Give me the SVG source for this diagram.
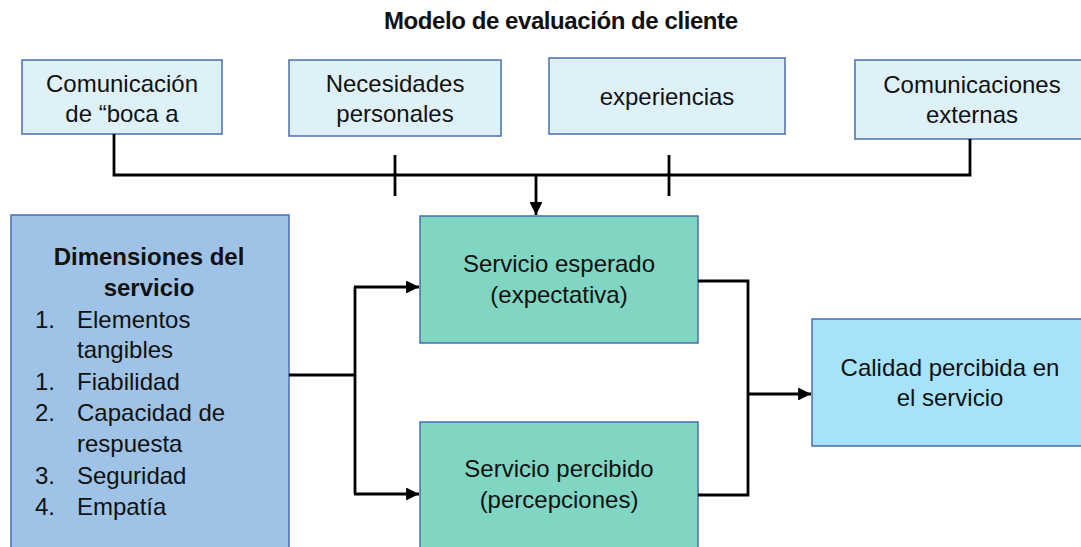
<svg xmlns="http://www.w3.org/2000/svg" width="1081" height="547" viewBox="0 0 1081 547">
<style>
text{font-family:"Liberation Sans",Arial,sans-serif;font-size:24px;fill:#111;}
.c{text-anchor:middle;}
.b{font-weight:bold;}
.box{stroke:#4A6DB0;stroke-width:1.5;}
.top{fill:#DFF1F8;}
.dim{fill:#9EC3E6;}
.grn{fill:#80D6C3;}
.cal{fill:#A6E3FB;}
.ln{fill:none;stroke:#000;stroke-width:2.8;}
</style>
<defs>
<marker id="ah" viewBox="0 0 10 10" refX="10" refY="5" markerWidth="4.8" markerHeight="4.6" orient="auto" markerUnits="strokeWidth">
<path d="M0,0 L10,5 L0,10 z" fill="#000"/>
</marker>
</defs>
<text class="c b" x="561" y="29" font-size="22" textLength="354">Modelo de evaluación de cliente</text>

<g id="n-boca">
<rect class="box top" x="22" y="60" width="200" height="74"/>
<text class="c" x="122" y="92">Comunicación</text>
<text class="c" x="122" y="122">de “boca a</text>
</g>
<g id="n-necesidades">
<rect class="box top" x="289" y="60" width="212" height="76"/>
<text class="c" x="395" y="92">Necesidades</text>
<text class="c" x="395" y="122">personales</text>
</g>
<g id="n-experiencias">
<rect class="box top" x="549" y="58" width="236" height="76"/>
<text class="c" x="667" y="105">experiencias</text>
</g>
<g id="n-externas">
<rect class="box top" x="855" y="60" width="230" height="79"/>
<text class="c" x="972" y="93">Comunicaciones</text>
<text class="c" x="972" y="123">externas</text>
</g>

<g id="n-dimensiones">
<rect class="box dim" x="11" y="215" width="278" height="340"/>
<text class="c b" x="149" y="265">Dimensiones del</text>
<text class="c b" x="149" y="296">servicio</text>
<text x="35" y="328">1.</text><text x="77" y="328">Elementos</text>
<text x="77" y="358">tangibles</text>
<text x="35" y="390">1.</text><text x="77" y="390">Fiabilidad</text>
<text x="35" y="421">2.</text><text x="77" y="421">Capacidad de</text>
<text x="77" y="452">respuesta</text>
<text x="35" y="484">3.</text><text x="77" y="484">Seguridad</text>
<text x="35" y="515">4.</text><text x="77" y="515">Empatía</text>
</g>

<g id="n-esperado">
<rect class="box grn" x="420" y="216" width="278" height="127"/>
<text class="c" x="559" y="272">Servicio esperado</text>
<text class="c" x="559" y="303">(expectativa)</text>
</g>
<g id="n-percibido">
<rect class="box grn" x="420" y="422" width="278" height="135"/>
<text class="c" x="559" y="477">Servicio percibido</text>
<text class="c" x="559" y="508">(percepciones)</text>
</g>
<g id="n-calidad">
<rect class="box cal" x="812" y="319" width="275" height="127"/>
<text class="c" x="950" y="376">Calidad percibida en</text>
<text class="c" x="950" y="406">el servicio</text>
</g>

<g id="connectors">
<path class="ln" d="M114,134 V175 H970 V139"/>
<path class="ln" d="M395,155 V196"/>
<path class="ln" d="M669,155 V196"/>
<path class="ln" d="M536,175 V215" marker-end="url(#ah)"/>
<path class="ln" d="M289,375 H355"/>
<path class="ln" d="M355,287 V494"/>
<path class="ln" d="M354,287 H419" marker-end="url(#ah)"/>
<path class="ln" d="M354,494 H419" marker-end="url(#ah)"/>
<path class="ln" d="M698,281 H748 V495 H698"/>
<path class="ln" d="M748,394 H811" marker-end="url(#ah)"/>
</g>
</svg>
